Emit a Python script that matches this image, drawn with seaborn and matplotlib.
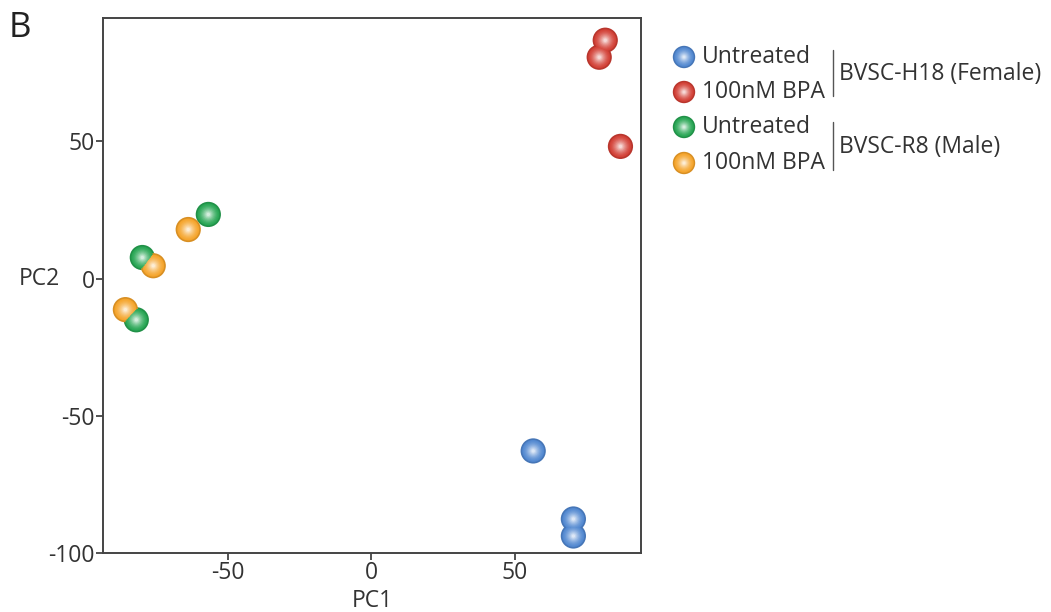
import numpy as np
import pandas as pd
import matplotlib
matplotlib.use("Agg")
import matplotlib.pyplot as plt
import seaborn as sns
from matplotlib.colors import to_rgb

# ---- data ----
groups = ["H18 Untreated", "H18 BPA", "R8 Untreated", "R8 BPA"]
legend_labels = ["Untreated", "100nM BPA", "Untreated", "100nM BPA"]
cell_lines = ["BVSC-H18 (Female)", "BVSC-R8 (Male)"]
pc1_h18_untreated = [56.4, 70.4, 70.4]
pc2_h18_untreated = [-62.8, -87.6, -93.8]
pc1_h18_bpa = [81.5, 79.4, 86.8]
pc2_h18_bpa = [86.9, 80.7, 48.2]
pc1_r8_untreated = [-56.8, -79.8, -81.9]
pc2_r8_untreated = [23.4, 7.7, -15.0]
pc1_r8_bpa = [-63.8, -76.0, -85.7]
pc2_r8_bpa = [17.9, 4.7, -11.3]
x_ticks = [-50, 0, 50]
y_ticks = [-100, -50, 0, 50]

colors = {"H18 Untreated": "#4f86d0", "H18 BPA": "#d23d33",
          "R8 Untreated": "#25a552", "R8 BPA": "#f5a328"}

df = pd.concat([
    pd.DataFrame({"PC1": pc1_h18_untreated, "PC2": pc2_h18_untreated, "group": groups[0]}),
    pd.DataFrame({"PC1": pc1_h18_bpa, "PC2": pc2_h18_bpa, "group": groups[1]}),
    pd.DataFrame({"PC1": pc1_r8_untreated, "PC2": pc2_r8_untreated, "group": groups[2]}),
    pd.DataFrame({"PC1": pc1_r8_bpa, "PC2": pc2_r8_bpa, "group": groups[3]}),
], ignore_index=True)

sns.set_style("white")
plt.rcParams["font.family"] = ["Open Sans", "DejaVu Sans"]
text_color = "#333333"
fs = 16.5

fig = plt.figure(figsize=(10.51, 6.12), dpi=100)
ax = fig.add_axes([0.098, 0.0964, 0.512, 0.8742])


def shade(c, t):
    r = np.array(to_rgb(c))
    return tuple(r + (1 - r) * t)


def dark(c, t):
    r = np.array(to_rgb(c))
    return tuple(r * (1 - t))


def sphere(axis, data, x, y, base_size):
    # layered circles to imitate the glossy sphere markers
    n = 9
    for g in groups:
        sub = data[data["group"] == g]
        c = colors[g]
        sns.scatterplot(data=sub, x=x, y=y, ax=axis, s=base_size, color=dark(c, 0.12),
                        edgecolor="none", legend=False, zorder=3)
        for i in range(n):
            frac = 1 - (i + 1) / (n + 1.5)
            t = ((i + 1) / n) ** 1.6 * 0.8
            sns.scatterplot(data=sub, x=x, y=y, ax=axis, s=base_size * frac ** 2 * 0.92,
                            color=shade(c, t), edgecolor="none", legend=False, zorder=4 + i)


sphere(ax, df, "PC1", "PC2", 330)

ax.set_xlim(-93.5, 94)
ax.set_ylim(-100, 95)
ax.set_xticks(x_ticks)
ax.set_yticks(y_ticks)
ax.set_xticklabels([str(v) for v in x_ticks])
ax.set_yticklabels([str(v) for v in y_ticks])
for s in ax.spines.values():
    s.set_visible(True)
    s.set_color("#444444")
    s.set_linewidth(1.4)
ax.tick_params(axis="both", direction="out", length=5, width=1.3, color="#444444",
               labelsize=fs, labelcolor=text_color, bottom=True, left=True)
ax.tick_params(axis="x", pad=1)
ax.tick_params(axis="y", pad=1)
ax.set_xlabel("PC1", fontsize=fs, color=text_color)
ax.set_ylabel("PC2", fontsize=fs, color=text_color, rotation=0)
ax.yaxis.set_label_coords(-0.118, 0.49)
ax.xaxis.set_label_coords(0.5, -0.09)
ax.xaxis.label.set_va("center")

fig.text(0.008, 0.955, "B", fontsize=25, color="#222222", va="center")

# ---- custom legend in figure pixel space ----
lax = fig.add_axes([0, 0, 1, 1])
lax.set_xlim(0, 1051)
lax.set_ylim(612, 0)
lax.axis("off")
leg_y = [57, 92, 127, 163]
leg = pd.DataFrame({"x": [684] * 4, "y": leg_y, "group": groups})
sphere(lax, leg, "x", "y", 260)
for yy, lab in zip(leg_y, legend_labels):
    lax.text(702, yy, lab, fontsize=fs, color=text_color, va="center", ha="left")
for (y0, y1), name in zip([(50, 96), (122, 170)], cell_lines):
    lax.plot([833, 833], [y0, y1], color="#555555", lw=1.0)
    lax.text(839, (y0 + y1) / 2 + 1, name, fontsize=fs, color=text_color, va="center", ha="left")

fig.savefig("out.png", dpi=100, facecolor="white")
